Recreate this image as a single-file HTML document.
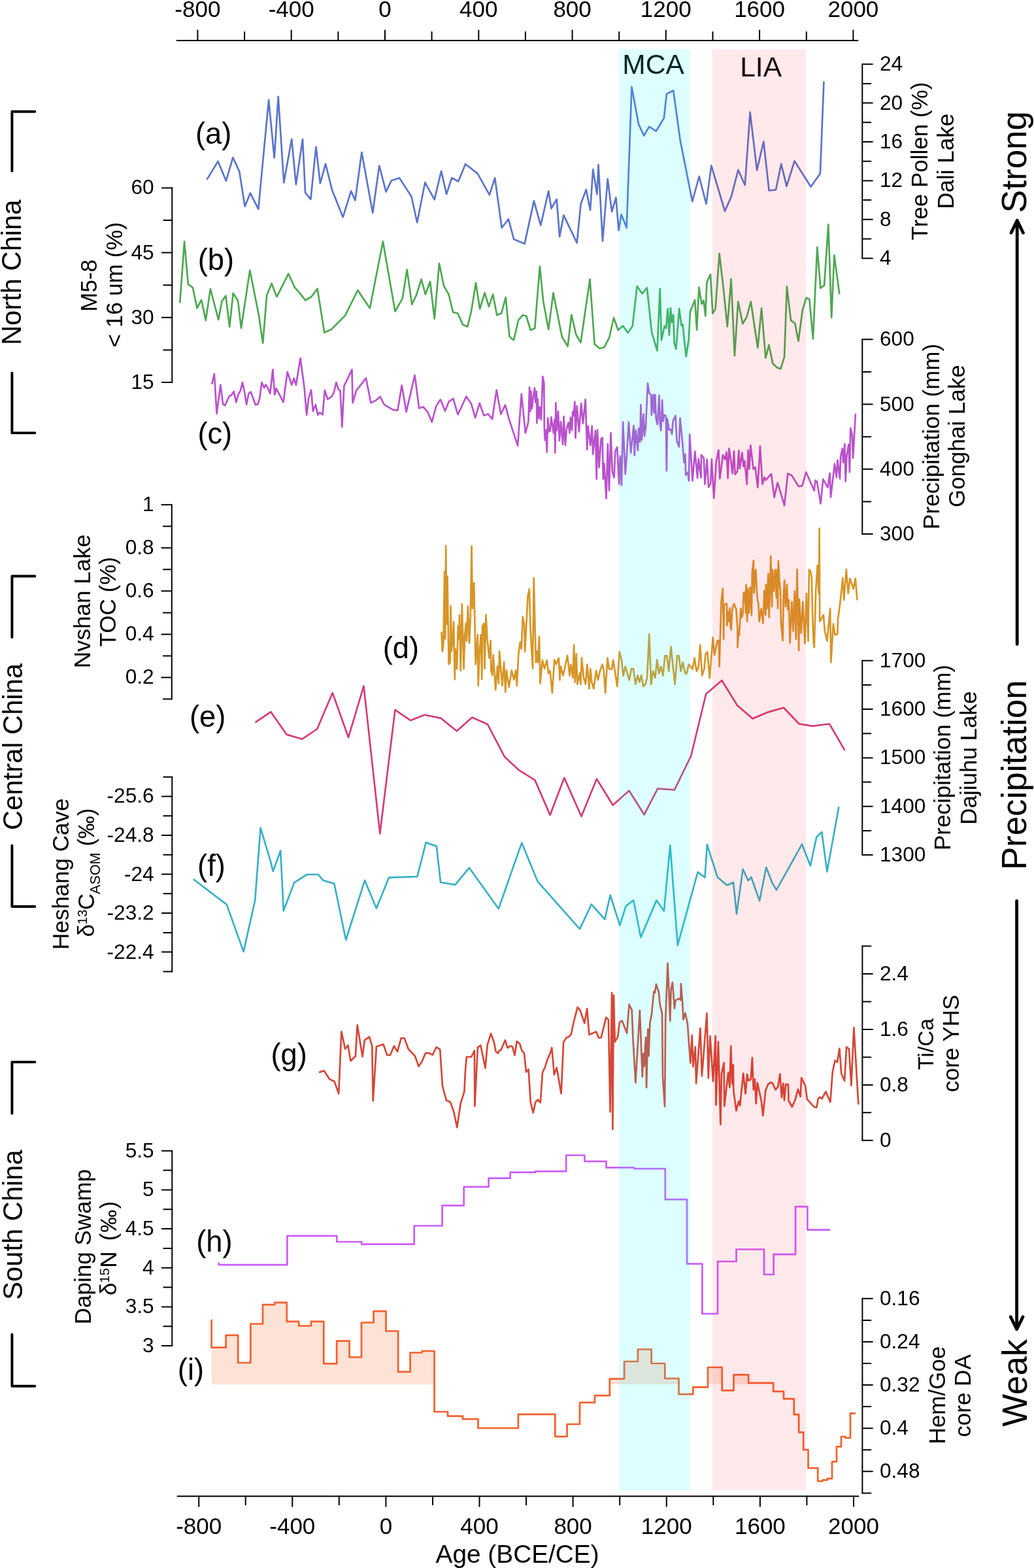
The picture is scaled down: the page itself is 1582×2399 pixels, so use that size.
<!DOCTYPE html>
<html><head><meta charset="utf-8"><title>Precipitation records</title>
<style>html,body{margin:0;padding:0;background:#fff;} svg{display:block;}</style>
</head><body>
<svg width="1582" height="2399" viewBox="0 0 1582 2399"><g stroke="#000" stroke-width="2.0" stroke-linecap="round" fill="none">
<line x1="270.5" y1="62" x2="1312.5" y2="62"/>
<line x1="302.4" y1="62" x2="302.4" y2="46.5"/>
<line x1="374.1" y1="62" x2="374.1" y2="49.0"/>
<line x1="445.7" y1="62" x2="445.7" y2="46.5"/>
<line x1="517.4" y1="62" x2="517.4" y2="49.0"/>
<line x1="589.0" y1="62" x2="589.0" y2="46.5"/>
<line x1="660.6" y1="62" x2="660.6" y2="49.0"/>
<line x1="732.3" y1="62" x2="732.3" y2="46.5"/>
<line x1="803.9" y1="62" x2="803.9" y2="49.0"/>
<line x1="875.6" y1="62" x2="875.6" y2="46.5"/>
<line x1="947.2" y1="62" x2="947.2" y2="49.0"/>
<line x1="1018.8" y1="62" x2="1018.8" y2="46.5"/>
<line x1="1090.5" y1="62" x2="1090.5" y2="49.0"/>
<line x1="1162.1" y1="62" x2="1162.1" y2="46.5"/>
<line x1="1233.8" y1="62" x2="1233.8" y2="49.0"/>
<line x1="1305.4" y1="62" x2="1305.4" y2="46.5"/>
<line x1="271.5" y1="2289.2" x2="1313.5" y2="2289.2"/>
<line x1="304.2" y1="2289.2" x2="304.2" y2="2304.7"/>
<line x1="375.7" y1="2289.2" x2="375.7" y2="2302.2"/>
<line x1="447.3" y1="2289.2" x2="447.3" y2="2304.7"/>
<line x1="518.8" y1="2289.2" x2="518.8" y2="2302.2"/>
<line x1="590.4" y1="2289.2" x2="590.4" y2="2304.7"/>
<line x1="662.0" y1="2289.2" x2="662.0" y2="2302.2"/>
<line x1="733.5" y1="2289.2" x2="733.5" y2="2304.7"/>
<line x1="805.1" y1="2289.2" x2="805.1" y2="2302.2"/>
<line x1="876.6" y1="2289.2" x2="876.6" y2="2304.7"/>
<line x1="948.2" y1="2289.2" x2="948.2" y2="2302.2"/>
<line x1="1019.8" y1="2289.2" x2="1019.8" y2="2304.7"/>
<line x1="1091.3" y1="2289.2" x2="1091.3" y2="2302.2"/>
<line x1="1162.9" y1="2289.2" x2="1162.9" y2="2304.7"/>
<line x1="1234.4" y1="2289.2" x2="1234.4" y2="2302.2"/>
<line x1="1306.0" y1="2289.2" x2="1306.0" y2="2304.7"/>
</g>
<g font-family="'Liberation Sans', Arial, Helvetica, sans-serif" font-size="35.0" text-anchor="middle" fill="#000">
<text x="302.4" y="25.6">-800</text>
<text x="304.2" y="2347.2">-800</text>
<text x="445.7" y="25.6">-400</text>
<text x="447.3" y="2347.2">-400</text>
<text x="589.0" y="25.6">0</text>
<text x="590.4" y="2347.2">0</text>
<text x="732.3" y="25.6">400</text>
<text x="733.5" y="2347.2">400</text>
<text x="875.6" y="25.6">800</text>
<text x="876.6" y="2347.2">800</text>
<text x="1018.8" y="25.6">1200</text>
<text x="1019.8" y="2347.2">1200</text>
<text x="1162.1" y="25.6">1600</text>
<text x="1162.9" y="2347.2">1600</text>
<text x="1305.4" y="25.6">2000</text>
<text x="1306.0" y="2347.2">2000</text>
</g>
<text x="791.6" y="2390.5" font-family="'Liberation Sans', Arial, Helvetica, sans-serif" font-size="38.8" text-anchor="middle">Age (BCE/CE)</text>
<g stroke="#000" stroke-width="2.0" stroke-linecap="round" fill="none">
<line x1="1319.3" y1="98.2" x2="1319.3" y2="395.2"/>
<line x1="1319.3" y1="395.2" x2="1334.8" y2="395.2"/>
<line x1="1319.3" y1="365.5" x2="1332.3" y2="365.5"/>
<line x1="1319.3" y1="335.8" x2="1334.8" y2="335.8"/>
<line x1="1319.3" y1="306.1" x2="1332.3" y2="306.1"/>
<line x1="1319.3" y1="276.4" x2="1334.8" y2="276.4"/>
<line x1="1319.3" y1="246.7" x2="1332.3" y2="246.7"/>
<line x1="1319.3" y1="217.0" x2="1334.8" y2="217.0"/>
<line x1="1319.3" y1="187.3" x2="1332.3" y2="187.3"/>
<line x1="1319.3" y1="157.6" x2="1334.8" y2="157.6"/>
<line x1="1319.3" y1="127.9" x2="1332.3" y2="127.9"/>
<line x1="1319.3" y1="98.2" x2="1334.8" y2="98.2"/>
</g>
<g font-family="'Liberation Sans', Arial, Helvetica, sans-serif" font-size="31.6" text-anchor="start">
<text x="1346.0" y="108.1">24</text>
<text x="1346.0" y="167.5">20</text>
<text x="1346.0" y="226.9">16</text>
<text x="1346.0" y="286.3">12</text>
<text x="1346.0" y="345.7">8</text>
<text x="1346.0" y="405.1">4</text>
</g>
<g stroke="#000" stroke-width="2.0" stroke-linecap="round" fill="none">
<line x1="263.3" y1="287.4" x2="263.3" y2="585.0"/>
<line x1="263.3" y1="585.0" x2="247.8" y2="585.0"/>
<line x1="263.3" y1="535.4" x2="250.3" y2="535.4"/>
<line x1="263.3" y1="485.8" x2="247.8" y2="485.8"/>
<line x1="263.3" y1="436.2" x2="250.3" y2="436.2"/>
<line x1="263.3" y1="386.6" x2="247.8" y2="386.6"/>
<line x1="263.3" y1="337.0" x2="250.3" y2="337.0"/>
<line x1="263.3" y1="287.4" x2="247.8" y2="287.4"/>
</g>
<g font-family="'Liberation Sans', Arial, Helvetica, sans-serif" font-size="31.6" text-anchor="end">
<text x="235.6" y="297.3">60</text>
<text x="235.6" y="396.5">45</text>
<text x="235.6" y="495.7">30</text>
<text x="235.6" y="594.9">15</text>
</g>
<g stroke="#000" stroke-width="2.0" stroke-linecap="round" fill="none">
<line x1="1319.3" y1="519.3" x2="1319.3" y2="817.1"/>
<line x1="1319.3" y1="817.1" x2="1334.8" y2="817.1"/>
<line x1="1319.3" y1="767.5" x2="1332.3" y2="767.5"/>
<line x1="1319.3" y1="717.8" x2="1334.8" y2="717.8"/>
<line x1="1319.3" y1="668.2" x2="1332.3" y2="668.2"/>
<line x1="1319.3" y1="618.6" x2="1334.8" y2="618.6"/>
<line x1="1319.3" y1="568.9" x2="1332.3" y2="568.9"/>
<line x1="1319.3" y1="519.3" x2="1334.8" y2="519.3"/>
</g>
<g font-family="'Liberation Sans', Arial, Helvetica, sans-serif" font-size="31.6" text-anchor="start">
<text x="1346.0" y="529.2">600</text>
<text x="1346.0" y="628.5">500</text>
<text x="1346.0" y="727.7">400</text>
<text x="1346.0" y="827.0">300</text>
</g>
<g stroke="#000" stroke-width="2.0" stroke-linecap="round" fill="none">
<line x1="262.8" y1="772.2" x2="262.8" y2="1069.5"/>
<line x1="262.8" y1="1069.5" x2="249.8" y2="1069.5"/>
<line x1="262.8" y1="1036.5" x2="247.3" y2="1036.5"/>
<line x1="262.8" y1="1003.4" x2="249.8" y2="1003.4"/>
<line x1="262.8" y1="970.4" x2="247.3" y2="970.4"/>
<line x1="262.8" y1="937.4" x2="249.8" y2="937.4"/>
<line x1="262.8" y1="904.3" x2="247.3" y2="904.3"/>
<line x1="262.8" y1="871.3" x2="249.8" y2="871.3"/>
<line x1="262.8" y1="838.3" x2="247.3" y2="838.3"/>
<line x1="262.8" y1="805.2" x2="249.8" y2="805.2"/>
<line x1="262.8" y1="772.2" x2="247.3" y2="772.2"/>
</g>
<g font-family="'Liberation Sans', Arial, Helvetica, sans-serif" font-size="31.6" text-anchor="end">
<text x="235.6" y="782.1">1</text>
<text x="235.6" y="848.2">0.8</text>
<text x="235.6" y="914.2">0.6</text>
<text x="235.6" y="980.3">0.4</text>
<text x="235.6" y="1046.4">0.2</text>
</g>
<g stroke="#000" stroke-width="2.0" stroke-linecap="round" fill="none">
<line x1="1319.3" y1="1010.7" x2="1319.3" y2="1308.1"/>
<line x1="1319.3" y1="1308.1" x2="1334.8" y2="1308.1"/>
<line x1="1319.3" y1="1270.9" x2="1332.3" y2="1270.9"/>
<line x1="1319.3" y1="1233.8" x2="1334.8" y2="1233.8"/>
<line x1="1319.3" y1="1196.6" x2="1332.3" y2="1196.6"/>
<line x1="1319.3" y1="1159.4" x2="1334.8" y2="1159.4"/>
<line x1="1319.3" y1="1122.2" x2="1332.3" y2="1122.2"/>
<line x1="1319.3" y1="1085.0" x2="1334.8" y2="1085.0"/>
<line x1="1319.3" y1="1047.9" x2="1332.3" y2="1047.9"/>
<line x1="1319.3" y1="1010.7" x2="1334.8" y2="1010.7"/>
</g>
<g font-family="'Liberation Sans', Arial, Helvetica, sans-serif" font-size="31.6" text-anchor="start">
<text x="1346.0" y="1020.6">1700</text>
<text x="1346.0" y="1095.0">1600</text>
<text x="1346.0" y="1169.3">1500</text>
<text x="1346.0" y="1243.7">1400</text>
<text x="1346.0" y="1318.0">1300</text>
</g>
<g stroke="#000" stroke-width="2.0" stroke-linecap="round" fill="none">
<line x1="263.3" y1="1188.7" x2="263.3" y2="1486.4"/>
<line x1="263.3" y1="1188.7" x2="250.3" y2="1188.7"/>
<line x1="263.3" y1="1218.5" x2="247.8" y2="1218.5"/>
<line x1="263.3" y1="1248.2" x2="250.3" y2="1248.2"/>
<line x1="263.3" y1="1278.0" x2="247.8" y2="1278.0"/>
<line x1="263.3" y1="1307.8" x2="250.3" y2="1307.8"/>
<line x1="263.3" y1="1337.6" x2="247.8" y2="1337.6"/>
<line x1="263.3" y1="1367.3" x2="250.3" y2="1367.3"/>
<line x1="263.3" y1="1397.1" x2="247.8" y2="1397.1"/>
<line x1="263.3" y1="1426.9" x2="250.3" y2="1426.9"/>
<line x1="263.3" y1="1456.6" x2="247.8" y2="1456.6"/>
<line x1="263.3" y1="1486.4" x2="250.3" y2="1486.4"/>
</g>
<g font-family="'Liberation Sans', Arial, Helvetica, sans-serif" font-size="31.6" text-anchor="end">
<text x="235.6" y="1228.4">-25.6</text>
<text x="235.6" y="1287.9">-24.8</text>
<text x="235.6" y="1347.5">-24</text>
<text x="235.6" y="1407.0">-23.2</text>
<text x="235.6" y="1466.5">-22.4</text>
</g>
<g stroke="#000" stroke-width="2.0" stroke-linecap="round" fill="none">
<line x1="1319.4" y1="1447.5" x2="1319.4" y2="1744.8"/>
<line x1="1319.4" y1="1744.8" x2="1334.9" y2="1744.8"/>
<line x1="1319.4" y1="1702.3" x2="1332.4" y2="1702.3"/>
<line x1="1319.4" y1="1659.9" x2="1334.9" y2="1659.9"/>
<line x1="1319.4" y1="1617.4" x2="1332.4" y2="1617.4"/>
<line x1="1319.4" y1="1574.9" x2="1334.9" y2="1574.9"/>
<line x1="1319.4" y1="1532.4" x2="1332.4" y2="1532.4"/>
<line x1="1319.4" y1="1490.0" x2="1334.9" y2="1490.0"/>
<line x1="1319.4" y1="1447.5" x2="1332.4" y2="1447.5"/>
</g>
<g font-family="'Liberation Sans', Arial, Helvetica, sans-serif" font-size="31.6" text-anchor="start">
<text x="1346.0" y="1499.9">2.4</text>
<text x="1346.0" y="1584.8">1.6</text>
<text x="1346.0" y="1669.8">0.8</text>
<text x="1346.0" y="1754.7">0</text>
</g>
<g stroke="#000" stroke-width="2.0" stroke-linecap="round" fill="none">
<line x1="263.3" y1="1760.7" x2="263.3" y2="2059.1"/>
<line x1="263.3" y1="2059.1" x2="247.8" y2="2059.1"/>
<line x1="263.3" y1="2029.3" x2="250.3" y2="2029.3"/>
<line x1="263.3" y1="1999.4" x2="247.8" y2="1999.4"/>
<line x1="263.3" y1="1969.6" x2="250.3" y2="1969.6"/>
<line x1="263.3" y1="1939.7" x2="247.8" y2="1939.7"/>
<line x1="263.3" y1="1909.9" x2="250.3" y2="1909.9"/>
<line x1="263.3" y1="1880.1" x2="247.8" y2="1880.1"/>
<line x1="263.3" y1="1850.2" x2="250.3" y2="1850.2"/>
<line x1="263.3" y1="1820.4" x2="247.8" y2="1820.4"/>
<line x1="263.3" y1="1790.5" x2="250.3" y2="1790.5"/>
<line x1="263.3" y1="1760.7" x2="247.8" y2="1760.7"/>
</g>
<g font-family="'Liberation Sans', Arial, Helvetica, sans-serif" font-size="31.6" text-anchor="end">
<text x="235.6" y="1770.6">5.5</text>
<text x="235.6" y="1830.3">5</text>
<text x="235.6" y="1890.0">4.5</text>
<text x="235.6" y="1949.6">4</text>
<text x="235.6" y="2009.3">3.5</text>
<text x="235.6" y="2069.0">3</text>
</g>
<g stroke="#000" stroke-width="2.0" stroke-linecap="round" fill="none">
<line x1="1319.4" y1="1986.8" x2="1319.4" y2="2284.4"/>
<line x1="1319.4" y1="1986.8" x2="1334.9" y2="1986.8"/>
<line x1="1319.4" y1="2019.9" x2="1332.4" y2="2019.9"/>
<line x1="1319.4" y1="2052.9" x2="1334.9" y2="2052.9"/>
<line x1="1319.4" y1="2086.0" x2="1332.4" y2="2086.0"/>
<line x1="1319.4" y1="2119.1" x2="1334.9" y2="2119.1"/>
<line x1="1319.4" y1="2152.1" x2="1332.4" y2="2152.1"/>
<line x1="1319.4" y1="2185.2" x2="1334.9" y2="2185.2"/>
<line x1="1319.4" y1="2218.3" x2="1332.4" y2="2218.3"/>
<line x1="1319.4" y1="2251.3" x2="1334.9" y2="2251.3"/>
<line x1="1319.4" y1="2284.4" x2="1332.4" y2="2284.4"/>
</g>
<g font-family="'Liberation Sans', Arial, Helvetica, sans-serif" font-size="31.6" text-anchor="start">
<text x="1346.0" y="1996.7">0.16</text>
<text x="1346.0" y="2062.8">0.24</text>
<text x="1346.0" y="2129.0">0.32</text>
<text x="1346.0" y="2195.1">0.4</text>
<text x="1346.0" y="2261.2">0.48</text>
</g>
<text transform="translate(1418.5,367.5) rotate(-90)" font-family="'Liberation Sans', Arial, Helvetica, sans-serif" font-size="35.0">Tree Pollen (%)</text>
<text transform="translate(1458.5,319.8) rotate(-90)" font-family="'Liberation Sans', Arial, Helvetica, sans-serif" font-size="35.0">Dali Lake</text>
<text transform="translate(147.9,476.7) rotate(-90)" font-family="'Liberation Sans', Arial, Helvetica, sans-serif" font-size="35.0">M5-8</text>
<text transform="translate(186.5,531.5) rotate(-90)" font-family="'Liberation Sans', Arial, Helvetica, sans-serif" font-size="35.0">&lt; 16 um (%)</text>
<text transform="translate(1437.2,809.9) rotate(-90)" font-family="'Liberation Sans', Arial, Helvetica, sans-serif" font-size="35.0">Precipitation (mm)</text>
<text transform="translate(1475.8,776.3) rotate(-90)" font-family="'Liberation Sans', Arial, Helvetica, sans-serif" font-size="35.0">Gonghai Lake</text>
<text transform="translate(137.9,1022.2) rotate(-90)" font-family="'Liberation Sans', Arial, Helvetica, sans-serif" font-size="35.0">Nvshan Lake</text>
<text transform="translate(176.5,989.4) rotate(-90)" font-family="'Liberation Sans', Arial, Helvetica, sans-serif" font-size="35.0">TOC (%)</text>
<text transform="translate(1454.4,1301.0) rotate(-90)" font-family="'Liberation Sans', Arial, Helvetica, sans-serif" font-size="35.0">Precipitation (mm)</text>
<text transform="translate(1493.7,1261.8) rotate(-90)" font-family="'Liberation Sans', Arial, Helvetica, sans-serif" font-size="35.0">Dajiuhu Lake</text>
<text transform="translate(104.7,1453.1) rotate(-90)" font-family="'Liberation Sans', Arial, Helvetica, sans-serif" font-size="35.0">Heshang Cave</text>
<text transform="translate(1467.3,1671.0) rotate(-90)" font-family="'Liberation Sans', Arial, Helvetica, sans-serif" font-size="35.0">core YHS</text>
<text transform="translate(138.8,2026.2) rotate(-90)" font-family="'Liberation Sans', Arial, Helvetica, sans-serif" font-size="35.0">Daping Swamp</text>
<text transform="translate(1445.5,2209.5) rotate(-90)" font-family="'Liberation Sans', Arial, Helvetica, sans-serif" font-size="35.0">Hem/Goe</text>
<text transform="translate(1485.2,2198.7) rotate(-90)" font-family="'Liberation Sans', Arial, Helvetica, sans-serif" font-size="35.0">core DA</text>
<text transform="translate(1428.0,1636.9) rotate(-90)" font-family="'Liberation Sans', Arial, Helvetica, sans-serif" font-size="33.5">Ti/Ca</text>
<text transform="translate(143.9,1433.5) rotate(-90)" font-family="'Liberation Sans', Arial, Helvetica, sans-serif" font-size="35.0">δ<tspan font-size="20.5" dy="-10.7" dx="-0.5">13</tspan><tspan dy="10.7" dx="-0.5">C</tspan><tspan font-size="21.5" dy="8.7" dx="-1">ASOM</tspan><tspan dy="-8.7"> (‰)</tspan></text>
<text transform="translate(177.6,1982.0) rotate(-90)" font-family="'Liberation Sans', Arial, Helvetica, sans-serif" font-size="35.0">δ<tspan font-size="20.5" dy="-10.7" dx="-0.5">15</tspan><tspan dy="10.7" dx="0.5">N</tspan><tspan dx="5" letter-spacing="1.2"> (‰)</tspan></text>
<text transform="translate(32.0,528.0) rotate(-90)" font-family="'Liberation Sans', Arial, Helvetica, sans-serif" font-size="41.7" >North China</text>
<text transform="translate(34.0,1269.9) rotate(-90)" font-family="'Liberation Sans', Arial, Helvetica, sans-serif" font-size="41.7" >Central China</text>
<text transform="translate(34.0,1988.7) rotate(-90)" font-family="'Liberation Sans', Arial, Helvetica, sans-serif" font-size="41.7" >South China</text>
<text transform="translate(1569.5,325.8) rotate(-90)" font-family="'Liberation Sans', Arial, Helvetica, sans-serif" font-size="52.8" >Strong</text>
<text transform="translate(1569.6,1331.1) rotate(-90)" font-family="'Liberation Sans', Arial, Helvetica, sans-serif" font-size="52.8" >Precipitation</text>
<text transform="translate(1571.0,2182.8) rotate(-90)" font-family="'Liberation Sans', Arial, Helvetica, sans-serif" font-size="52.8" >Weak</text>
<g stroke="#000" stroke-width="3.9" fill="none" stroke-linecap="round" stroke-linejoin="round">
<path d="M53.3,170.7 H18.4 V261.5"/>
<path d="M18.4,570.6 V662.4 H53.3"/>
<path d="M53.3,881.5 H18.4 V975"/>
<path d="M18.4,1293.7 V1387 H53.3"/>
<path d="M53.3,1624.9 H18.4 V1703.5"/>
<path d="M18.4,2041.6 V2120.7 H53.3"/>
</g>
<g stroke="#000" stroke-width="4.8" fill="none" stroke-linecap="round" stroke-linejoin="round">
<line x1="1556.2" y1="339" x2="1556.2" y2="985.5"/>
<path d="M1547,356.2 L1556.2,337.2 L1565.4,356.2"/>
<line x1="1555.6" y1="1378.5" x2="1555.6" y2="2032"/>
<path d="M1546.2,2014.8 L1555.6,2033.8 L1565,2014.8"/>
</g>
<text x="299.0" y="219.8" font-family="'Liberation Sans', Arial, Helvetica, sans-serif" font-size="45.3">(a)</text>
<text x="302.7" y="412.6" font-family="'Liberation Sans', Arial, Helvetica, sans-serif" font-size="45.3">(b)</text>
<text x="302.4" y="679.2" font-family="'Liberation Sans', Arial, Helvetica, sans-serif" font-size="45.3">(c)</text>
<text x="585.7" y="1006.6" font-family="'Liberation Sans', Arial, Helvetica, sans-serif" font-size="45.3">(d)</text>
<text x="290.0" y="1111.7" font-family="'Liberation Sans', Arial, Helvetica, sans-serif" font-size="45.3">(e)</text>
<text x="302.1" y="1339.6" font-family="'Liberation Sans', Arial, Helvetica, sans-serif" font-size="45.3">(f)</text>
<text x="414.4" y="1628.5" font-family="'Liberation Sans', Arial, Helvetica, sans-serif" font-size="45.3">(g)</text>
<text x="300.2" y="1915.0" font-family="'Liberation Sans', Arial, Helvetica, sans-serif" font-size="45.3">(h)</text>
<text x="271.8" y="2111.0" font-family="'Liberation Sans', Arial, Helvetica, sans-serif" font-size="45.3">(i)</text>
<text x="952.3" y="112.5" font-family="'Liberation Sans', Arial, Helvetica, sans-serif" font-size="42.5">MCA</text>
<text x="1132.2" y="116.8" font-family="'Liberation Sans', Arial, Helvetica, sans-serif" font-size="42.5">LIA</text>
<g fill="none" stroke-width="2.7" stroke-linejoin="round" stroke-linecap="round">
<polyline stroke="#5D74CB" points="317.1,273.9 333.5,246.8 345.9,276.7 356.4,241.0 366.3,262.6 374.6,315.7 382.9,295.4 395.3,319.8 411.1,153.2 419.7,241.4 425.7,147.9 434.3,279.5 446.2,212.9 452.9,282.2 463.0,212.9 467.1,294.9 475.4,304.9 483.5,224.8 489.9,280.5 498.1,250.7 508.1,290.8 524.7,332.2 537.1,292.4 543.4,306.5 553.4,233.1 570.2,325.6 580.3,253.5 590.6,293.3 598.9,276.2 611.0,272.2 629.5,300.7 638.2,340.5 650.3,279.2 664.7,305.4 675.1,261.8 683.1,297.1 691.2,272.2 701.3,277.5 712.1,251.0 730.7,265.6 748.9,298.2 757.2,272.2 767.7,348.5 777.9,335.2 786.1,365.9 802.7,372.9 816.9,307.4 827.2,344.7 839.3,292.4 843.5,319.0 851.7,304.9 856.2,362.1 862.4,329.3 882.7,371.7 888.6,312.3 896.8,290.0 903.1,321.5 907.3,259.0 913.4,297.1 915.6,252.2 922.0,368.7 929.7,273.9 936.1,323.9 942.4,302.4 946.6,352.5 950.7,328.1 958.7,348.5 966.5,132.9 976.9,189.6 985.2,207.5 993.3,193.8 1003.8,200.7 1015.9,180.5 1019.9,143.7 1030.2,138.5 1040.7,214.4 1059.2,308.1 1069.7,270.0 1080.5,311.9 1088.3,253.4 1109.0,323.0 1118.9,300.6 1129.4,260.0 1139.8,283.2 1147.6,171.6 1158.1,260.5 1168.3,216.6 1176.6,291.5 1187.1,290.3 1195.2,250.9 1203.5,284.9 1215.6,246.4 1240.5,285.8 1254.9,265.5 1260.4,125.7"/>
<polyline stroke="#4DA852" points="275.3,462.4 282.1,369.6 287.9,435.1 294.9,440.0 301.5,471.4 308.1,458.9 314.8,490.1 321.9,442.0 334.2,489.0 339.6,460.8 345.4,452.5 351.2,500.1 356.7,448.7 364.0,459.8 369.0,502.0 382.3,413.5 396.0,482.6 402.2,524.9 408.1,452.0 415.6,433.7 423.4,454.1 441.3,418.8 450.7,439.5 458.2,447.8 467.3,459.4 476.4,454.0 485.6,441.7 496.3,508.8 507.1,503.9 528.2,482.6 547.3,444.0 565.9,471.5 585.9,369.4 604.5,476.5 615.8,456.6 622.7,412.7 630.2,465.6 636.8,452.0 644.6,427.4 650.9,450.3 658.1,430.8 664.7,487.6 672.0,403.1 679.1,437.4 686.6,450.6 693.2,477.7 700.3,479.3 708.1,496.7 715.3,499.7 721.1,476.0 728.0,432.9 734.2,472.7 741.6,447.8 747.9,469.1 754.1,450.3 760.3,482.2 767.1,479.3 773.7,455.0 779.5,515.0 786.0,520.5 793.1,489.8 799.7,482.2 805.2,483.5 811.7,505.0 818.3,502.2 825.9,407.7 831.2,461.1 839.2,504.2 846.5,448.2 859.9,515.8 868.6,529.9 874.4,481.8 881.3,511.7 888.5,524.1 902.5,427.1 909.7,526.6 917.8,533.2 924.6,531.2 932.1,516.6 939.0,486.3 945.7,505.0 953.1,498.4 960.6,509.2 967.7,498.9 974.7,437.9 982.6,449.2 989.9,440.4 997.1,508.3 1005.5,536.5 1009.7,441.8 1012.0,520.3 1016.8,498.8 1019.1,502.1 1021.6,472.4 1023.9,512.6 1026.0,471.1 1027.9,493.5 1030.2,481.6 1031.7,525.1 1034.4,534.0 1039.2,472.4 1042.6,497.9 1044.5,496.4 1049.7,545.5 1053.7,519.9 1056.0,476.7 1063.1,459.0 1066.1,504.6 1069.4,439.5 1073.6,465.2 1076.5,459.6 1079.3,483.3 1081.4,432.3 1087.0,419.8 1090.4,479.7 1094.6,472.4 1100.6,387.9 1106.3,436.1 1112.8,499.6 1118.6,426.9 1123.9,544.2 1129.3,461.5 1136.4,495.4 1142.1,485.8 1148.8,461.5 1159.3,532.1 1165.1,471.5 1171.4,547.6 1176.5,527.9 1182.3,556.2 1189.0,562.4 1194.3,564.3 1200.1,546.1 1203.9,438.4 1210.0,490.2 1216.3,494.8 1221.5,521.8 1227.8,474.7 1233.5,455.6 1238.3,457.7 1243.9,518.4 1250.3,378.4 1255.4,440.9 1261.1,436.7 1267.3,343.6 1272.2,485.8 1276.4,390.5 1284.2,449.1"/>
<polyline stroke="#B952CD" points="324.4,586.9 327.9,572.0 331.6,632.9 337.4,588.9 341.2,618.4 344.3,620.4 350.6,606.3 354.4,604.3 357.6,598.9 361.4,615.4 364.4,603.8 367.7,598.0 371.0,585.1 374.7,603.0 377.2,618.8 380.5,602.2 383.8,599.7 390.8,619.3 394.6,618.4 397.4,608.8 400.4,585.1 404.2,593.1 406.7,588.6 409.5,593.1 413.3,602.2 417.3,565.4 420.3,603.8 422.7,594.4 433.5,615.4 439.7,569.0 446.3,588.9 449.6,579.0 452.9,589.2 459.6,548.0 465.5,592.2 469.2,635.0 472.2,608.8 476.1,596.7 478.8,629.0 482.9,619.3 486.3,635.0 489.1,631.2 493.6,634.5 496.9,597.2 501.5,611.0 507.8,606.3 511.1,599.7 514.4,585.1 517.8,595.5 520.6,597.7 523.4,653.2 526.4,590.6 538.5,565.4 539.6,616.3 545.1,597.7 559.9,578.6 567.4,616.3 574.5,613.0 581.5,606.9 588.1,619.3 601.7,627.1 608.4,627.9 614.7,589.5 621.6,630.1 634.6,574.0 641.2,624.6 647.5,622.5 654.1,629.9 660.8,645.7 667.2,621.6 673.9,611.3 681.0,628.8 686.8,614.3 693.4,610.0 700.6,634.2 713.3,606.7 720.8,617.2 727.1,639.2 733.7,616.8 740.4,635.7 746.8,633.4 753.1,641.2 759.7,596.8 766.4,633.7 773.0,619.6 778.8,641.2 792.1,681.8 797.8,602.8 803.9,662.4 808.4,645.6 810.1,592.5 811.4,629.4 812.4,598.5 813.9,625.0 815.5,609.9 818.0,593.6 819.3,615.3 820.9,599.0 821.4,647.3 822.5,610.4 824.5,640.2 825.8,622.9 827.9,641.9 830.3,576.0 832.3,586.0 832.8,654.3 833.9,673.3 835.5,657.6 836.8,691.7 838.2,639.7 840.1,660.3 841.8,659.2 843.4,638.1 846.9,662.4 848.5,641.9 849.3,692.8 850.4,616.4 851.8,658.7 854.0,629.4 855.9,673.8 858.1,645.1 861.0,679.8 862.6,637.0 864.8,681.2 867.0,655.4 869.7,646.7 871.5,662.4 872.9,638.6 875.1,658.1 876.2,629.9 877.8,635.9 879.4,614.7 880.5,670.0 882.7,621.3 885.9,660.3 889.2,617.2 891.9,647.8 895.7,611.0 898.2,687.9 899.7,652.2 903.3,681.4 905.8,651.6 907.1,695.0 910.9,659.2 912.8,732.9 914.1,657.6 916.6,715.0 919.6,671.7 921.7,669.5 922.8,732.9 924.4,709.1 927.5,762.7 929.9,679.3 932.0,750.3 934.5,662.4 936.9,722.1 939.6,730.8 941.2,690.6 944.2,684.1 947.2,741.0 948.8,697.7 951.0,742.1 953.1,645.6 956.7,725.3 958.7,699.9 961.9,646.2 965.2,692.8 969.5,651.1 970.8,696.6 972.8,658.1 976.0,689.0 977.1,655.4 979.3,676.0 980.4,619.4 982.0,672.8 984.5,633.7 986.0,667.3 987.9,654.3 991.0,586.3 993.4,601.7 996.1,603.9 996.8,634.8 999.3,604.2 1000.7,631.6 1002.3,603.9 1003.7,640.2 1005.8,649.4 1008.5,605.0 1009.6,646.7 1011.3,658.7 1013.1,612.0 1014.5,644.6 1016.1,634.8 1018.8,636.4 1019.9,720.5 1021.0,640.8 1023.7,657.6 1026.4,657.0 1028.1,664.1 1029.7,644.0 1033.5,635.9 1035.6,674.9 1038.9,683.6 1040.5,639.7 1044.3,678.2 1046.5,707.4 1048.4,695.0 1049.2,727.0 1052.4,722.6 1053.9,735.6 1055.2,664.6 1059.5,735.6 1063.3,690.6 1067.1,731.3 1068.7,702.0 1072.5,730.8 1073.0,696.0 1076.8,700.9 1078.5,741.0 1081.7,703.1 1084.1,745.4 1087.1,740.0 1088.8,702.6 1092.2,762.2 1095.8,706.4 1099.4,688.5 1101.3,732.4 1106.1,696.0 1109.4,703.1 1111.6,691.6 1113.7,731.8 1115.4,686.2 1117.8,700.3 1120.7,724.4 1123.0,690.3 1124.7,725.8 1128.1,721.1 1130.4,689.3 1131.8,716.8 1135.4,692.7 1137.5,713.7 1139.2,705.0 1142.8,740.9 1144.6,688.5 1146.4,717.7 1148.4,681.3 1152.6,717.7 1155.5,715.0 1159.3,745.8 1162.9,682.6 1166.5,740.9 1169.6,730.2 1171.6,734.5 1180.0,725.1 1184.6,760.6 1189.7,738.5 1200.1,773.3 1205.4,724.4 1211.4,727.5 1221.8,744.1 1227.5,743.2 1233.2,722.4 1245.7,750.5 1247.5,734.9 1250.0,737.1 1255.6,770.6 1259.3,733.1 1266.4,745.8 1269.6,724.1 1271.0,760.6 1277.0,709.7 1279.8,730.4 1281.4,704.1 1285.0,732.4 1286.1,699.0 1288.8,686.2 1290.1,707.7 1292.4,679.3 1293.7,736.5 1295.5,697.0 1298.4,680.2 1299.9,722.1 1301.2,655.2 1303.8,664.8 1305.1,700.6 1308.9,634.0"/>
<polyline stroke="#D69628" points="675.5,967.6 676.9,996.9 678.4,986.0 680.1,874.6 681.2,977.4 682.2,835.0 683.3,955.0 684.5,881.5 686.6,1016.4 688.7,1013.0 689.5,927.4 691.0,996.3 692.7,977.9 694.1,951.0 695.8,1039.4 696.7,992.9 699.0,1023.3 700.8,957.8 701.9,977.4 703.0,941.2 704.8,1026.2 706.8,924.0 709.6,1023.3 711.1,973.3 712.8,953.8 714.0,980.8 715.9,927.4 718.0,983.7 719.7,946.9 721.6,835.6 722.9,930.9 725.2,891.8 727.7,1016.4 730.8,971.0 731.7,1049.1 733.5,999.7 735.8,971.0 737.3,1038.8 738.1,957.8 740.4,953.8 741.5,1022.7 743.5,940.6 745.5,977.4 748.4,1006.6 750.7,980.2 751.3,1026.2 753.2,1033.0 754.7,1002.0 758.2,1055.4 761.0,1019.3 763.0,1045.7 764.1,996.3 768.5,1049.1 771.1,1013.0 773.3,1058.9 774.8,1025.6 778.8,1051.4 782.8,1025.6 786.3,1039.9 789.1,1025.6 790.9,1049.1 793.2,1002.0 795.8,982.5 797.8,992.9 799.8,943.5 802.0,954.4 803.2,996.9 807.5,912.5 809.8,901.0 811.5,960.7 815.0,1022.7 816.7,884.4 819.9,1013.5 821.9,996.3 823.0,1013.5 825.0,973.9 826.5,1045.7 829.9,1010.1 833.0,1023.3 836.8,1010.1 839.1,1030.4 841.6,1026.2 844.9,1060.2 848.2,1009.6 851.2,1016.3 854.9,1006.7 856.5,1040.3 857.9,1019.6 861.5,1033.7 868.1,1003.0 871.5,1033.7 873.4,1016.6 876.4,1037.0 878.1,986.9 879.7,1043.6 881.7,1000.2 883.4,1046.9 887.2,1029.5 888.4,1046.9 890.0,1006.7 893.0,1037.0 896.0,1046.9 898.3,1016.6 901.6,1053.6 903.3,1023.2 905.4,1043.6 908.3,1053.6 912.1,1026.2 914.9,1040.3 917.9,1027.0 921.5,1016.6 923.7,1025.4 926.2,1060.2 929.5,1006.7 932.0,1023.7 936.1,1023.7 938.1,1009.6 944.4,1050.3 947.7,997.2 951.0,1009.6 953.5,1033.7 956.8,1019.9 962.7,1040.3 966.0,1023.2 969.0,1023.2 972.3,1046.9 975.6,1033.2 978.4,1043.6 981.2,1033.2 984.2,1050.3 987.5,1046.9 990.0,1037.0 993.3,970.2 996.1,1046.9 999.1,1026.6 1002.4,1037.0 1005.3,1009.6 1008.2,1030.4 1011.2,1019.9 1014.4,1033.7 1017.4,1003.3 1020.3,1003.3 1023.2,1027.0 1026.5,989.7 1032.6,1046.9 1036.1,1003.3 1038.6,1003.3 1041.7,1027.0 1044.7,1013.3 1048.4,1030.4 1050.5,1030.4 1053.8,1016.6 1059.6,1023.7 1062.6,1006.7 1065.8,1027.0 1068.8,1020.4 1071.3,986.9 1074.2,1033.7 1077.4,1023.7 1079.5,1000.2 1082.3,997.5 1085.8,1037.3 1090.7,975.3 1093.0,1002.0 1097.7,980.0 1099.8,980.6 1100.6,1020.0 1103.5,920.8 1105.8,900.6 1107.2,978.0 1107.8,926.1 1110.2,923.8 1111.9,923.8 1112.2,957.1 1113.6,935.6 1114.9,951.0 1116.6,930.5 1117.6,958.4 1118.8,963.8 1119.9,936.2 1121.0,928.2 1123.3,923.8 1124.7,928.8 1126.3,930.8 1128.4,962.5 1128.5,990.7 1130.0,966.5 1131.0,971.9 1133.4,930.8 1134.4,945.0 1136.4,940.3 1137.8,906.6 1139.5,906.3 1141.1,938.2 1141.5,894.5 1143.2,951.0 1144.5,900.6 1145.9,937.6 1147.9,898.5 1149.9,941.3 1150.9,874.3 1152.9,857.5 1153.6,907.3 1156.3,871.3 1158.0,904.6 1159.3,920.8 1160.3,922.1 1161.7,951.0 1164.7,930.8 1167.4,953.7 1169.4,903.9 1171.4,940.8 1171.8,894.3 1173.6,930.8 1175.4,877.9 1176.8,944.4 1179.3,851.1 1181.1,927.9 1181.8,871.5 1183.9,904.3 1185.7,871.8 1187.9,914.3 1188.9,871.5 1190.0,930.8 1190.9,858.2 1192.5,888.6 1194.0,904.3 1195.0,953.7 1197.7,980.1 1198.6,913.6 1200.2,887.9 1201.8,927.9 1204.0,894.3 1205.4,932.9 1206.8,917.9 1208.6,983.7 1211.5,920.8 1213.6,965.8 1215.8,904.3 1217.9,978.0 1219.5,871.1 1222.2,995.1 1222.9,917.2 1225.8,968.7 1228.3,920.8 1231.5,984.4 1234.0,907.9 1236.5,980.8 1237.9,871.5 1240.1,874.3 1241.8,884.3 1243.6,955.8 1245.0,986.5 1245.8,990.6 1248.1,905.6 1250.7,865.1 1252.7,907.9 1253.7,808.4 1254.2,950.8 1259.9,940.8 1261.8,965.3 1265.5,980.6 1270.1,930.9 1271.3,1013.5 1274.9,954.6 1277.5,971.4 1281.3,969.9 1282.0,947.7 1285.1,924.8 1289.4,884.2 1291.2,917.9 1294.8,871.2 1297.7,907.9 1300.4,885.0 1305.8,901.0 1308.8,885.0 1311.4,917.1"/>
<polyline stroke="#D33C7A" points="391.5,1104.7 414.4,1089.2 438.7,1123.9 462.1,1130.8 485.1,1115.5 508.8,1060.1 533.1,1128.2 556.5,1049.6 581.3,1275.3 604.5,1086.1 628.0,1102.2 649.6,1093.8 674.6,1098.9 698.9,1118.5 722.3,1097.6 746.1,1108.3 772.1,1158.1 793.7,1178.1 818.5,1193.6 841.6,1246.9 863.3,1190.1 889.5,1249.0 912.9,1191.8 937.7,1231.8 962.5,1209.8 985.6,1246.3 1006.2,1206.7 1032.0,1208.4 1057.2,1156.7 1080.2,1061.7 1104.4,1041.0 1127.8,1078.9 1151.5,1099.6 1175.0,1089.6 1199.0,1082.7 1222.5,1107.5 1243.1,1110.9 1269.0,1107.5 1292.0,1147.1"/>
<polyline stroke="#3AB0C4" points="296.6,1345.7 346.8,1383.9 372.6,1456.1 390.2,1377.6 398.6,1266.6 413.9,1317.6 417.8,1332.9 429.2,1301.5 433.8,1393.4 450.2,1350.3 469.5,1338.0 487.1,1338.0 494.3,1346.9 511.4,1352.0 529.2,1438.0 558.1,1346.9 575.9,1389.8 595.1,1342.6 638.4,1341.1 651.7,1289.0 667.8,1294.6 674.1,1350.0 696.5,1353.7 717.9,1327.7 762.8,1390.2 798.3,1289.4 822.5,1348.6 887.0,1421.3 904.9,1383.6 925.3,1406.5 933.7,1369.5 948.3,1415.7 957.7,1386.1 969.2,1377.4 980.4,1434.1 1004.4,1377.4 1015.9,1393.8 1025.3,1293.3 1036.8,1446.2 1067.5,1334.3 1078.6,1342.3 1081.8,1292.0 1097.9,1342.3 1112.5,1354.5 1122.0,1350.0 1127.0,1398.2 1136.6,1329.8 1144.8,1347.3 1149.3,1342.0 1162.1,1378.2 1172.3,1327.1 1181.8,1351.4 1188.0,1361.6 1227.0,1291.6 1239.8,1324.6 1249.3,1280.7 1257.3,1272.9 1265.4,1333.6 1283.2,1235.4"/>
<polyline stroke="#D44838" points="489.0,1640.4 495.7,1638.1 504.3,1651.3 511.5,1654.4 518.2,1673.3 522.4,1578.3 528.2,1605.0 532.4,1599.3 536.4,1623.2 543.9,1616.1 546.7,1568.3 554.6,1616.5 557.8,1591.3 565.1,1586.5 569.3,1600.3 570.7,1684.4 576.0,1601.2 586.5,1597.8 592.3,1614.2 597.1,1614.2 602.8,1600.3 608.1,1608.9 613.7,1588.4 618.7,1588.4 624.8,1605.0 634.7,1615.2 640.5,1631.4 645.5,1624.2 651.0,1611.2 656.4,1611.2 661.7,1614.2 667.5,1602.2 673.2,1605.4 677.0,1661.5 682.8,1683.5 688.9,1686.0 694.3,1701.3 699.3,1725.0 704.6,1688.8 710.4,1670.0 712.1,1636.1 713.9,1617.0 721.1,1617.0 725.9,1607.5 726.4,1692.3 730.9,1602.1 735.4,1599.5 742.5,1634.3 745.7,1598.6 751.1,1581.3 755.9,1595.0 758.6,1608.8 762.1,1611.4 763.9,1607.5 766.6,1606.3 772.9,1591.4 776.4,1603.0 781.3,1600.4 784.1,1601.6 787.5,1614.6 790.7,1593.2 795.2,1596.8 798.4,1607.5 802.0,1611.4 805.0,1640.2 808.6,1636.1 811.8,1686.1 815.7,1702.5 819.3,1686.1 822.9,1682.5 826.8,1687.0 830.0,1640.9 833.9,1632.9 837.1,1622.1 841.6,1612.0 844.3,1603.0 847.9,1644.1 851.8,1633.4 858.6,1673.2 862.1,1594.6 866.6,1587.5 870.2,1586.4 873.8,1582.5 877.3,1565.5 883.6,1541.1 887.5,1545.5 894.3,1565.5 898.2,1543.2 901.4,1582.9 912.1,1578.6 916.1,1587.9 919.6,1587.5 923.2,1573.6 927.3,1556.6 930.9,1560.2 933.6,1701.2 936.1,1518.9 937.4,1727.7 938.9,1522.6 940.8,1593.9 945.2,1586.4 948.0,1563.6 951.8,1561.8 959.1,1580.7 962.6,1536.9 966.7,1545.3 968.6,1591.4 972.4,1656.4 978.9,1546.0 982.8,1647.5 984.3,1612.2 985.6,1631.1 988.1,1587.0 989.1,1664.0 991.3,1574.4 992.5,1615.4 994.4,1564.9 997.0,1551.7 1000.4,1517.0 1002.0,1518.9 1003.9,1505.9 1007.9,1518.2 1009.6,1535.9 1013.0,1551.0 1014.0,1647.5 1017.1,1693.0 1018.2,1559.2 1021.6,1473.8 1025.3,1561.8 1026.6,1514.4 1028.9,1503.1 1032.0,1542.8 1033.6,1530.6 1038.6,1527.7 1041.4,1530.2 1041.8,1505.0 1044.3,1535.9 1045.5,1559.9 1048.4,1549.8 1051.8,1565.5 1056.3,1626.1 1058.8,1583.8 1060.4,1631.8 1063.8,1601.5 1065.1,1657.6 1071.4,1573.1 1073.9,1646.3 1081.5,1550.4 1083.8,1649.4 1086.5,1585.1 1091.0,1654.5 1094.7,1585.1 1095.4,1690.4 1098.9,1593.9 1102.4,1720.5 1103.9,1643.0 1107.6,1626.1 1108.3,1692.1 1114.2,1640.8 1116.4,1663.5 1118.2,1600.4 1120.1,1658.4 1121.8,1629.0 1122.3,1668.6 1126.4,1699.4 1130.3,1684.8 1132.2,1691.4 1134.7,1666.4 1137.2,1642.2 1140.6,1673.5 1143.1,1643.7 1145.0,1653.2 1148.7,1651.5 1150.9,1618.3 1152.8,1667.2 1155.0,1651.0 1156.7,1688.4 1158.9,1656.9 1164.8,1684.0 1167.3,1706.8 1171.4,1667.9 1175.1,1659.1 1178.7,1656.2 1181.7,1656.9 1186.5,1667.2 1190.2,1662.8 1193.4,1643.0 1195.9,1678.9 1198.3,1657.6 1200.0,1683.3 1202.2,1659.1 1205.9,1659.1 1206.6,1684.0 1211.8,1693.6 1216.4,1683.3 1220.9,1666.7 1224.7,1677.9 1226.1,1649.1 1232.0,1660.6 1234.9,1681.8 1245.5,1693.6 1249.5,1694.3 1251.7,1681.1 1254.6,1678.5 1257.5,1681.1 1263.4,1670.1 1270.4,1686.2 1273.8,1640.0 1277.5,1622.7 1281.0,1625.1 1284.4,1604.1 1287.3,1643.0 1292.1,1653.5 1295.1,1601.9 1299.0,1604.8 1302.4,1660.6 1306.4,1572.2 1313.3,1688.7"/>
<path stroke="#CC5CFA" d="M334.7,1932.5 V1935.2 H439.4 V1890.8 H515.3 V1900 H553.2 V1903.7 H633.7 V1875.5 H676.6 V1844.3 H709.7 V1815.8 H747.6 V1802.6 H780.7 V1793.7 H819.1 V1792.1 H866.2 V1767.5 H894.4 V1776.8 H927.6 V1786.4 H970 V1788.1 H1017.8 V1835.2 H1051 V1933.6 H1074.4 V2010 H1098 V1930 H1126.5 V1911.5 H1169 V1950 H1183.6 V1919.1 H1217.1 V1846.1 H1235.4 V1881.6 H1269.2"/>
</g>
<clipPath id="ci"><rect x="0" y="0" width="1582" height="2118"/></clipPath>
<path d="M323.7,2019.8 V2061.6 H345.6 V2042.9 H364.2 V2085 H383.4 V2025.5 H402 V1996.2 H420.2 V1992.9 H438.8 V2021.8 H457.2 V2028.5 H475.9 V2021.8 H495.3 V2086.4 H515.2 V2051.6 H534.6 V2076.5 H553 V2023.5 H571.6 V2006.1 H590.5 V2036.5 H609.2 V2098.9 H627.6 V2069.5 H645.7 V2067 H664.5 V2160 H685 V2166.7 H708 V2171.2 H731.5 V2185 H792.9 V2163.8 H849.3 V2197.9 H867.6 V2179 H887 V2145.9 H910 V2135.2 H932.8 V2109.6 H955.1 V2083 H975.9 V2064.5 H996.7 V2086 H1017.3 V2109 H1038.5 V2133.2 H1060.2 V2122.4 H1083 V2092 H1104.7 V2127.4 H1122.5 V2103.3 H1145.2 V2115.9 H1183.2 V2128.9 H1199 V2140.2 H1214.8 V2164.2 H1222.2 V2191.3 H1229.2 V2218.2 H1236.5 V2246.1 H1251.2 V2266.2 H1258.9 V2264.4 H1265.9 V2262.2 H1273 V2236.3 H1280 V2213.4 H1287 V2198 H1293.3 V2199.8 H1301 V2162.3 H1308 V2118 H323.7 Z" fill="#FDE2D6" stroke="none" clip-path="url(#ci)"/>
<path d="M323.7,2019.8 V2061.6 H345.6 V2042.9 H364.2 V2085 H383.4 V2025.5 H402 V1996.2 H420.2 V1992.9 H438.8 V2021.8 H457.2 V2028.5 H475.9 V2021.8 H495.3 V2086.4 H515.2 V2051.6 H534.6 V2076.5 H553 V2023.5 H571.6 V2006.1 H590.5 V2036.5 H609.2 V2098.9 H627.6 V2069.5 H645.7 V2067 H664.5 V2160 H685 V2166.7 H708 V2171.2 H731.5 V2185 H792.9 V2163.8 H849.3 V2197.9 H867.6 V2179 H887 V2145.9 H910 V2135.2 H932.8 V2109.6 H955.1 V2083 H975.9 V2064.5 H996.7 V2086 H1017.3 V2109 H1038.5 V2133.2 H1060.2 V2122.4 H1083 V2092 H1104.7 V2127.4 H1122.5 V2103.3 H1145.2 V2115.9 H1183.2 V2128.9 H1199 V2140.2 H1214.8 V2164.2 H1222.2 V2191.3 H1229.2 V2218.2 H1236.5 V2246.1 H1251.2 V2266.2 H1258.9 V2264.4 H1265.9 V2262.2 H1273 V2236.3 H1280 V2213.4 H1287 V2198 H1293.3 V2199.8 H1301 V2162.3 H1308" fill="none" stroke="#F55F2D" stroke-width="2.7" stroke-linejoin="round" stroke-linecap="round"/>
<rect x="946.9" y="75.4" width="109.1" height="2204.6" fill="#00FFFF" fill-opacity="0.135"/>
<rect x="1089.8" y="75.4" width="143.4" height="2204.6" fill="#FF0A1E" fill-opacity="0.09"/></svg>
</body></html>
